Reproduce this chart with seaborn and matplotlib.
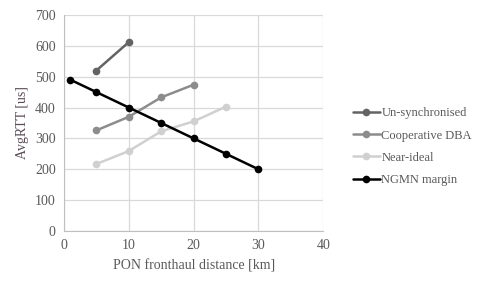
import matplotlib
matplotlib.use("Agg")
import matplotlib.pyplot as plt
import seaborn as sns
import pandas as pd

# Valores
x_unsync = [5, 10]
y_unsync = [520, 612]
x_coop = [5, 10, 15, 20]
y_coop = [326, 370, 433, 474]
x_ideal = [5, 10, 15, 20, 25]
y_ideal = [217, 259, 323, 355, 403]
x_ngmn = [1, 5, 10, 15, 20, 25, 30]
y_ngmn = [490, 450, 400, 350, 300, 250, 200]

series = ["Un-synchronised", "Cooperative DBA", "Near-ideal", "NGMN margin"]
colores = ["#636363", "#8c8c8c", "#d0d0d0", "#000000"]

datos = pd.concat([
    pd.DataFrame({"x": x_unsync, "y": y_unsync, "serie": series[0]}),
    pd.DataFrame({"x": x_coop, "y": y_coop, "serie": series[1]}),
    pd.DataFrame({"x": x_ideal, "y": y_ideal, "serie": series[2]}),
    pd.DataFrame({"x": x_ngmn, "y": y_ngmn, "serie": series[3]}),
])

sns.set_style("white")
plt.rcParams["font.family"] = ["Liberation Serif", "DejaVu Serif"]

fig = plt.figure(figsize=(4.81, 2.88), dpi=100)
ax = fig.add_axes([0.133, 0.198, 0.539, 0.750])

sns.lineplot(data=datos, x="x", y="y", hue="serie", hue_order=series,
             palette=colores, marker="o", markersize=5.5, markeredgewidth=0,
             linewidth=1.8, ax=ax, sort=False)

ax.set_xlim(0, 40)
ax.set_ylim(0, 700)
ax.set_xticks(range(0, 41, 10))
ax.set_yticks(range(0, 701, 100))
ax.grid(True, color="#d9d9d9", linewidth=0.9)
for lado in ["top", "right"]:
    ax.spines[lado].set_visible(False)
for lado in ["left", "bottom"]:
    ax.spines[lado].set_color("#bfbfbf")
ax.tick_params(axis="both", length=0, labelsize=10, labelcolor="#595959", pad=6)
ax.set_xlabel("PON fronthaul distance [km]", fontsize=10, color="#595959", labelpad=5)
ax.set_ylabel("AvgRTT [us]", fontsize=10, color="#5a4a56")

ax.legend(loc="center left", bbox_to_anchor=(1.07, 0.39), frameon=False,
          fontsize=9, handlelength=2.2, handletextpad=0.1, labelspacing=0.82,
          labelcolor="#595959")

plt.savefig("out.png", dpi=100)
plt.close()
